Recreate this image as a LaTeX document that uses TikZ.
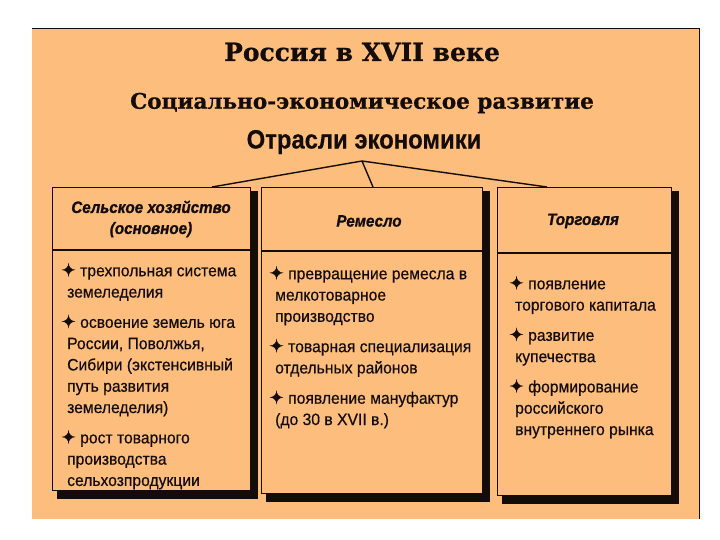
\documentclass[tikz,border=0pt]{standalone}
\usepackage{fontspec}
\setmainfont{Liberation Sans}
\newfontfamily\titlefont{DejaVu Serif}[FakeBold=0.6]
\newfontfamily\condfont{Liberation Sans}[FakeStretch=0.9,FakeBold=0.4]
\newfontfamily\itemfont{Liberation Sans}[FakeStretch=0.95,FakeBold=0.5]
\newfontfamily\headfont{Liberation Sans}[FakeStretch=0.92,FakeBold=1.0]
\newfontfamily\symfont{DejaVu Sans}[FakeBold=0.8]
\usetikzlibrary{calc,backgrounds}
\definecolor{bg}{RGB}{253,190,125}
\definecolor{ink}{RGB}{20,12,8}
\newcommand{\bul}{{\symfont\bfseries\fontsize{17.5}{21.3}\selectfont\char"2726}~}
\newcommand{\ind}{\hspace*{6pt}}
\tikzset{
  panelbox/.style={draw=ink, line width=0.8pt, fill=bg, anchor=north west, inner sep=0pt},
  shadowfill/.style={fill=ink},
  conn/.style={draw=ink, line width=1.4pt},
  sep/.style={draw=ink, line width=1.8pt},
  headtext/.style={font=\headfont\fontsize{16.5}{21}\selectfont\bfseries\itshape, text=ink, align=center},
  itemtext/.style={font=\itemfont\fontsize{16.5}{21.3}\selectfont, text=ink, align=left, anchor=north west, inner sep=0pt}
}
\begin{document}
\begin{tikzpicture}[x=1pt,y=-1pt]
\useasboundingbox (0,0) rectangle (720,540);
% title texts
\node[font=\titlefont\bfseries\fontsize{25}{28}\selectfont, text=ink] (title) at (362,52) {Россия в XVII веке};
\node[font=\titlefont\bfseries\fontsize{21.5}{25}\selectfont, text=ink] (sub) at (362,103) {Социально-экономическое развитие};
\node[font=\condfont\bfseries\fontsize{26.5}{30}\selectfont, text=ink] (branches) at (364,142) {Отрасли экономики};
\coordinate (apex) at (362,161);
% boxes
\node[panelbox, minimum width=198pt, minimum height=303pt] (agr) at (52,187) {};
\node[panelbox, minimum width=221pt, minimum height=306pt] (craft) at (261,187) {};
\node[panelbox, minimum width=174pt, minimum height=308pt] (trade) at (497,187) {};
\begin{scope}[on background layer]
  \fill[bg] (32,28) rectangle (699,519);
  \draw[ink, line width=0.6pt] (32,28) -- (699,28) -- (699,519);
  \foreach \b in {agr,craft,trade}{
    \fill[shadowfill] ($(\b.south west)+(5,8)$) rectangle ($(\b.north east)+(7,4)$);
  }
\end{scope}
% header separators
\coordinate (s1) at (0,250);
\coordinate (s2) at (0,251);
\coordinate (s3) at (0,253);
\draw[sep] (agr.west |- s1) -- (agr.east |- s1);
\draw[sep] (craft.west |- s2) -- (craft.east |- s2);
\draw[sep] (trade.west |- s3) -- (trade.east |- s3);
% connectors
\draw[conn] (apex) -- ($(agr.north west)+(160,0)$);
\draw[conn] (apex) -- ($(craft.north west)+(112,0)$);
\draw[conn] (apex) -- ($(trade.north west)+(50,0)$);
% headers
\node[headtext] (h1) at (151,219) {Сельское хозяйство\\(основное)};
\node[headtext] (h2) at (369,221) {Ремесло};
\node[headtext] (h3) at (583,221) {Торговля};
% items
\node[itemtext] (i1) at (61,263) {\bul трехпольная система\\\ind земеледелия\\[9pt]
\bul освоение земель юга\\\ind России, Поволжья,\\\ind Сибири (экстенсивный\\\ind путь развития\\\ind земеледелия)\\[9pt]
\bul рост товарного\\\ind производства\\\ind сельхозпродукции};
\node[itemtext] (i2) at (269,266) {\bul превращение ремесла в\\\ind мелкотоварное\\\ind производство\\[9pt]
\bul товарная специализация\\\ind отдельных районов\\[9pt]
\bul появление мануфактур\\\ind (до 30 в XVII в.)};
\node[itemtext] (i3) at (509,276) {\bul появление\\\ind торгового капитала\\[9pt]
\bul развитие\\\ind купечества\\[9pt]
\bul формирование\\\ind российского\\\ind внутреннего рынка};
\end{tikzpicture}
\end{document}
